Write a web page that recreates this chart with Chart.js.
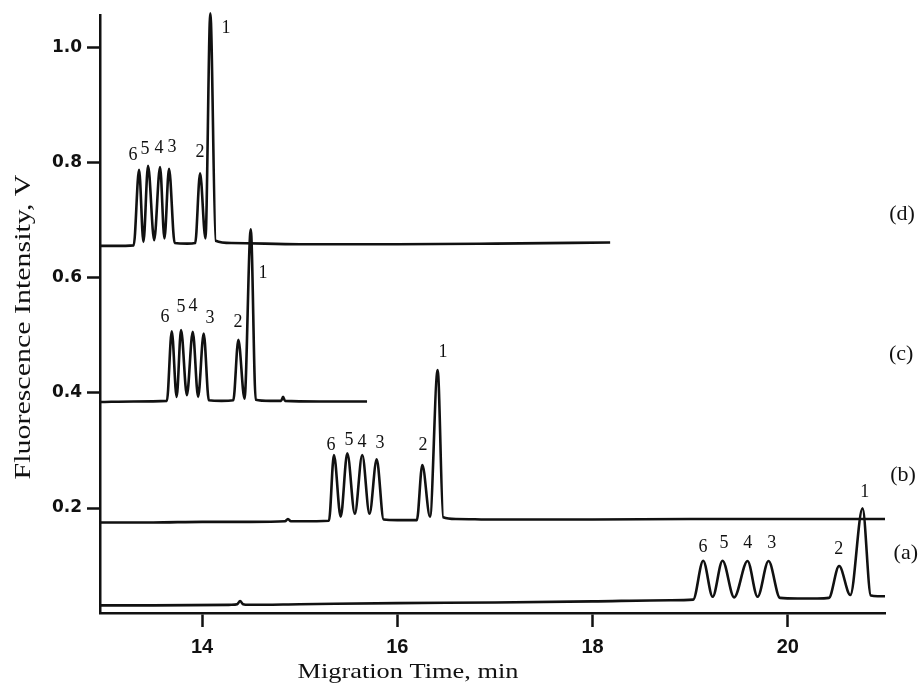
<!DOCTYPE html>
<html>
<head>
<meta charset="utf-8">
<script src="https://cdn.jsdelivr.net/npm/chart.js@4.4.1/dist/chart.umd.min.js"></script>
<style>
  html, body { margin: 0; padding: 0; background: #fff; }
  #wrap { width: 923px; height: 683px; position: relative; }
</style>
</head>
<body>
<div id="wrap"><canvas id="myChart"></canvas></div>
<script>
// migration time (min) and fluorescence (V)
const timeA = [12.955, 13.5, 14.3, 14.36, 14.39, 14.42, 14.48, 15.0, 16.0, 17.0, 18.0, 18.8, 19.03, 19.133, 19.23, 19.331, 19.45, 19.587, 19.69, 19.802, 19.92, 20.1, 20.3, 20.42, 20.525, 20.64, 20.765, 20.85, 20.92, 20.995];
const sigA  = [0.031, 0.031, 0.032, 0.033, 0.0386, 0.033, 0.032, 0.033, 0.035, 0.036, 0.038, 0.040, 0.041, 0.1085, 0.046, 0.1085, 0.045, 0.108, 0.046, 0.108, 0.044, 0.043, 0.043, 0.044, 0.0993, 0.049, 0.1994, 0.048, 0.047, 0.047];

const timeB = [12.955, 13.5, 14.0, 14.5, 14.85, 14.88, 14.91, 15.0, 15.30, 15.351, 15.42, 15.488, 15.565, 15.641, 15.715, 15.789, 15.86, 16.0, 16.20, 16.256, 16.335, 16.413, 16.47, 16.6, 17.0, 18.0, 19.0, 20.0, 20.995];
const sigB  = [0.175, 0.175, 0.176, 0.176, 0.177, 0.181, 0.177, 0.177, 0.178, 0.292, 0.185, 0.295, 0.19, 0.292, 0.19, 0.2845, 0.18, 0.179, 0.179, 0.2746, 0.185, 0.4395, 0.184, 0.181, 0.18, 0.18, 0.181, 0.181, 0.181];

const timeC = [12.955, 13.3, 13.64, 13.69, 13.74, 13.785, 13.845, 13.905, 13.96, 14.017, 14.07, 14.2, 14.32, 14.372, 14.435, 14.499, 14.55, 14.7, 14.81, 14.83, 14.85, 15.2, 15.69];
const sigC  = [0.384, 0.385, 0.386, 0.507, 0.393, 0.509, 0.396, 0.506, 0.393, 0.503, 0.387, 0.386, 0.387, 0.492, 0.39, 0.684, 0.388, 0.386, 0.386, 0.393, 0.386, 0.385, 0.385];

const timeD = [12.955, 13.1, 13.30, 13.355, 13.40, 13.447, 13.51, 13.57, 13.615, 13.662, 13.72, 13.85, 13.93, 13.98, 14.035, 14.085, 14.14, 14.3, 15.0, 16.0, 17.0, 18.18];
const sigD  = [0.655, 0.655, 0.656, 0.787, 0.662, 0.794, 0.665, 0.792, 0.668, 0.789, 0.66, 0.659, 0.66, 0.781, 0.668, 1.059, 0.664, 0.66, 0.658, 0.658, 0.659, 0.661];

const traceNames = ['(a)', '(b)', '(c)', '(d)'];
const traceNameAt = [[21.208, 0.122], [21.18, 0.257], [21.16, 0.467], [21.17, 0.710]];

const peakNames = ['6', '5', '4', '3', '2', '1'];
// where each peak number sits (min, V)
const peakLabA = [[19.13, 0.132], [19.345, 0.139], [19.59, 0.139], [19.836, 0.139], [20.522, 0.128], [20.788, 0.228]];
const peakLabB = [[15.321, 0.309], [15.505, 0.318], [15.638, 0.314], [15.822, 0.313], [16.263, 0.309], [16.468, 0.471]];
const peakLabC = [[13.621, 0.532], [13.785, 0.549], [13.908, 0.551], [14.082, 0.530], [14.369, 0.523], [14.625, 0.608]];
const peakLabD = [[13.294, 0.813], [13.416, 0.823], [13.56, 0.825], [13.693, 0.827], [13.98, 0.818], [14.246, 1.033]];

const xTicks = [14, 16, 18, 20];
const yTicks = [0.2, 0.4, 0.6, 0.8, 1.0];

function pts(t, s) {
  return t.map((v, i) => ({ x: v, y: s[i] }));
}

const ink = '#111';

function trace(label, t, s) {
  return {
    label: label,
    data: pts(t, s),
    borderColor: ink,
    borderWidth: 2.6,
    pointRadius: 0,
    fill: false,
    cubicInterpolationMode: 'monotone',
    clip: false
  };
}

const labelsPlugin = {
  id: 'labels',
  afterDraw(chart) {
    const c = chart.ctx;
    const xs = chart.scales.x, ys = chart.scales.y;
    c.save();
    c.fillStyle = ink;
    c.textAlign = 'center';
    c.textBaseline = 'middle';

    // peak numbers
    c.font = '18px "Liberation Serif", "Times New Roman", serif';
    [peakLabA, peakLabB, peakLabC, peakLabD].forEach(list => {
      list.forEach((p, i) => {
        c.fillText(peakNames[i], xs.getPixelForValue(p[0]), ys.getPixelForValue(p[1]));
      });
    });

    // trace names on the right
    c.font = '22px "Liberation Serif", "Times New Roman", serif';
    traceNames.forEach((n, i) => {
      c.fillText(n, xs.getPixelForValue(traceNameAt[i][0]), ys.getPixelForValue(traceNameAt[i][1]));
    });

    // axis titles, stretched a little like the scanned originals
    c.textBaseline = 'alphabetic';
    c.font = '22px "Liberation Serif", "Times New Roman", serif';
    let txt = 'Migration Time, min';
    let w = c.measureText(txt).width;
    c.save();
    c.translate(408, 678);
    c.scale(221 / w, 1);
    c.fillText(txt, 0, 0);
    c.restore();

    c.font = '24px "Liberation Serif", "Times New Roman", serif';
    txt = 'Fluorescence Intensity, V';
    w = c.measureText(txt).width;
    c.save();
    c.translate(30, 327);
    c.rotate(-Math.PI / 2);
    c.scale(305 / w, 1);
    c.fillText(txt, 0, 0);
    c.restore();

    c.restore();
  }
};

const config = {
  type: 'line',
  data: {
    datasets: [
      trace(traceNames[0], timeA, sigA),
      trace(traceNames[1], timeB, sigB),
      trace(traceNames[2], timeC, sigC),
      trace(traceNames[3], timeD, sigD)
    ]
  },
  options: {
    responsive: true,
    maintainAspectRatio: false,
    animation: false,
    layout: { padding: { top: 15, right: 38, left: 0, bottom: 0 } },
    plugins: {
      legend: { display: false },
      tooltip: { enabled: false },
      title: { display: false }
    },
    scales: {
      x: {
        type: 'linear',
        min: 12.955,
        max: 20.995,
        afterBuildTicks: s => { s.ticks = xTicks.map(v => ({ value: v })); },
        afterFit: s => { s.height = 70; },
        border: { display: true, color: ink, width: 2.5 },
        grid: { display: true, drawOnChartArea: false, drawTicks: true, tickLength: 14, tickWidth: 2.5, tickColor: ink },
        ticks: {
          color: ink,
          padding: 8,
          maxRotation: 0,
          autoSkip: false,
          font: { family: '"Liberation Sans", Arial, sans-serif', size: 20, weight: 'bold' },
          callback: v => String(v)
        }
      },
      y: {
        type: 'linear',
        min: 0.0178,
        max: 1.0555,
        afterBuildTicks: s => { s.ticks = yTicks.map(v => ({ value: v })); },
        afterFit: s => { s.width = 100; },
        border: { display: true, color: ink, width: 2.5 },
        grid: { display: true, drawOnChartArea: false, drawTicks: true, tickLength: 13, tickWidth: 2.5, tickColor: ink },
        ticks: {
          color: ink,
          padding: 5,
          autoSkip: false,
          font: { family: '"DejaVu Sans", sans-serif', size: 17, weight: 'bold' },
          callback: v => v.toFixed(1)
        }
      }
    }
  },
  plugins: [labelsPlugin]
};

const myChart = new Chart(document.getElementById('myChart'), config);
</script>
</body>
</html>
